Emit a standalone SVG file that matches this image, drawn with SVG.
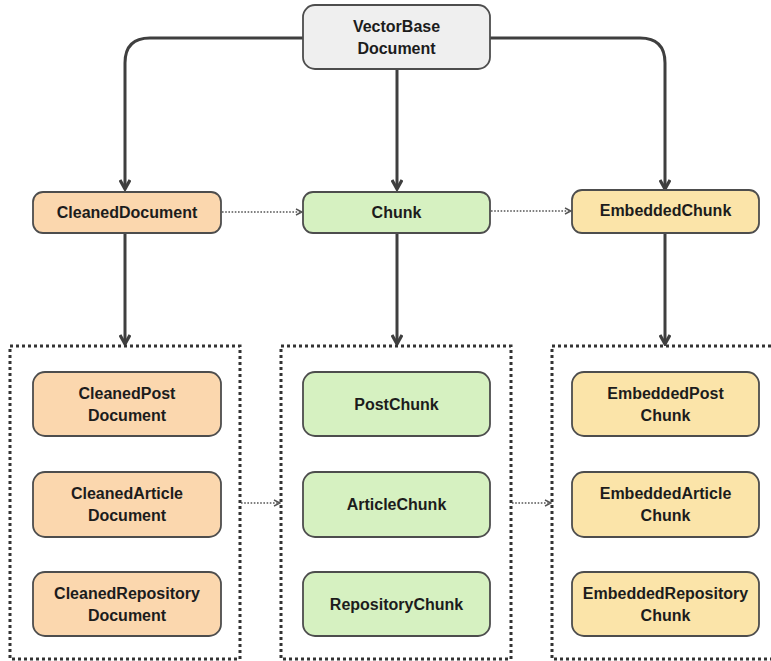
<svg xmlns="http://www.w3.org/2000/svg" width="771" height="661" viewBox="0 0 771 661">
<defs>
<style>
.node{stroke:#4d4d4d;stroke-width:1.8}
.gray{fill:#efefef}
.peach{fill:#fbd7ae}
.green{fill:#d6f1c1}
.yellow{fill:#fbe4a9}
.t{font-family:"Liberation Sans",Arial,sans-serif;font-weight:bold;font-size:16px;fill:#1c1c1c;text-anchor:middle}
.solid{fill:none;stroke:#3f3f3f;stroke-width:3;marker-end:url(#ah)}
.dot{fill:none;stroke:#555;stroke-width:1.4;stroke-dasharray:1.6,1.6;marker-end:url(#oh)}
.box{fill:none;stroke:#333;stroke-width:3;stroke-dasharray:3,3}
</style>
<marker id="ah" viewBox="0 0 12 12" refX="10" refY="6" markerWidth="12" markerHeight="12" markerUnits="userSpaceOnUse" orient="auto">
<path d="M1,1 L10,6 L1,11" fill="none" stroke="#3f3f3f" stroke-width="3.2"/>
</marker>
<marker id="oh" viewBox="0 0 8 8" refX="7" refY="4" markerWidth="8" markerHeight="8" markerUnits="userSpaceOnUse" orient="auto">
<path d="M1,1 L7,4 L1,7" fill="none" stroke="#555" stroke-width="1.4"/>
</marker>
</defs>
<rect width="771" height="661" fill="#ffffff"/>
<g id="connectors">
<path class="solid" d="M303,38 H150 Q125,38 125,63 V189"/>
<path class="solid" d="M490,38 H640 Q665,38 665,63 V189"/>
<path class="solid" d="M397,70 V189"/>
<path class="solid" d="M125,234 V344"/>
<path class="solid" d="M397,234 V344"/>
<path class="solid" d="M665,234 V344"/>
<path class="dot" d="M222,212 H302"/>
<path class="dot" d="M491,211 H571"/>
<path class="dot" d="M241,503 H280"/>
<path class="dot" d="M512,503 H551"/>
</g>
<g id="containers">
<rect id="cleaned-group" class="box" x="10" y="346" width="230" height="313"/>
<rect id="chunk-group" class="box" x="281" y="346" width="230" height="313"/>
<rect id="embedded-group" class="box" x="552" y="346" width="230" height="313"/>
</g>
<g id="vectorbase">
<rect class="node gray" x="303" y="5" width="187" height="64" rx="12"/>
<text class="t" x="396.5" y="32">VectorBase</text>
<text class="t" x="396.5" y="54">Document</text>
</g>
<g id="cleaneddocument">
<rect class="node peach" x="33" y="192" width="188" height="41" rx="10"/>
<text class="t" x="127" y="218">CleanedDocument</text>
</g>
<g id="chunk">
<rect class="node green" x="303" y="192" width="187" height="41" rx="10"/>
<text class="t" x="396.5" y="218">Chunk</text>
</g>
<g id="embeddedchunk">
<rect class="node yellow" x="572" y="190" width="187" height="43" rx="10"/>
<text class="t" x="665.5" y="216">EmbeddedChunk</text>
</g>
<g id="cleanedpost">
<rect class="node peach" x="33" y="372" width="188" height="64" rx="12"/>
<text class="t" x="127" y="399">CleanedPost</text>
<text class="t" x="127" y="421">Document</text>
</g>
<g id="cleanedarticle">
<rect class="node peach" x="33" y="472" width="188" height="65" rx="12"/>
<text class="t" x="127" y="499">CleanedArticle</text>
<text class="t" x="127" y="521">Document</text>
</g>
<g id="cleanedrepository">
<rect class="node peach" x="33" y="572" width="188" height="64" rx="12"/>
<text class="t" x="127" y="599">CleanedRepository</text>
<text class="t" x="127" y="621">Document</text>
</g>
<g id="postchunk">
<rect class="node green" x="303" y="372" width="187" height="64" rx="12"/>
<text class="t" x="396.5" y="410">PostChunk</text>
</g>
<g id="articlechunk">
<rect class="node green" x="303" y="472" width="187" height="65" rx="12"/>
<text class="t" x="396.5" y="510">ArticleChunk</text>
</g>
<g id="repositorychunk">
<rect class="node green" x="303" y="572" width="187" height="64" rx="12"/>
<text class="t" x="396.5" y="610">RepositoryChunk</text>
</g>
<g id="embeddedpost">
<rect class="node yellow" x="572" y="372" width="187" height="64" rx="12"/>
<text class="t" x="665.5" y="399">EmbeddedPost</text>
<text class="t" x="665.5" y="421">Chunk</text>
</g>
<g id="embeddedarticle">
<rect class="node yellow" x="572" y="472" width="187" height="65" rx="12"/>
<text class="t" x="665.5" y="499">EmbeddedArticle</text>
<text class="t" x="665.5" y="521">Chunk</text>
</g>
<g id="embeddedrepository">
<rect class="node yellow" x="572" y="572" width="187" height="64" rx="12"/>
<text class="t" x="665.5" y="599">EmbeddedRepository</text>
<text class="t" x="665.5" y="621">Chunk</text>
</g>
</svg>
